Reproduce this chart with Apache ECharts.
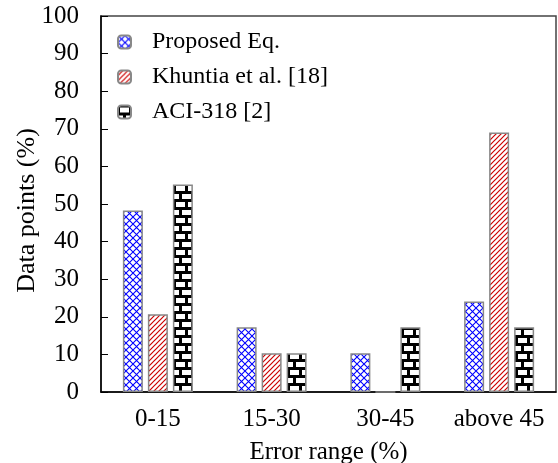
<!DOCTYPE html>
<html><head><meta charset="utf-8">
<script src="https://cdn.jsdelivr.net/npm/echarts@6/dist/echarts.min.js"></script>
<style>html,body{margin:0;padding:0;background:#fff}#c{width:558px;height:463px}</style>
</head><body><div id="c"></div>
<script>
const categories = ['0-15', '15-30', '30-45', 'above 45'];
const seriesNames = ['Proposed Eq.', 'Khuntia et al. [18]', 'ACI-318 [2]'];
const proposed = [48.3, 17.2, 10.3, 24.1];
const khuntia = [20.7, 10.3, 0, 69.0];
const aci = [55.2, 10.3, 17.2, 17.2];
const yTicks = [0, 10, 20, 30, 40, 50, 60, 70, 80, 90, 100];

function mk(w, h, draw) {
  const c = document.createElement('canvas'); c.width = w; c.height = h;
  const g = c.getContext('2d'); g.fillStyle = '#fff'; g.fillRect(0, 0, w, h); draw(g); return c;
}
const bluePat = mk(7, 7, g => {
  g.strokeStyle = '#0000ff'; g.lineWidth = 1.1;
  g.beginPath(); g.moveTo(0, 0); g.lineTo(7, 7); g.moveTo(7, 0); g.lineTo(0, 7); g.stroke();
});
const redPat = mk(5, 5, g => {
  g.strokeStyle = '#cc0000'; g.lineWidth = 1.2;
  g.beginPath(); g.moveTo(-1, 6); g.lineTo(6, -1); g.moveTo(-1, 1); g.lineTo(1, -1); g.moveTo(4, 6); g.lineTo(6, 4); g.stroke();
});
const brickPat = mk(12, 16, g => {
  g.fillStyle = '#000'; g.fillRect(0, 0, 12, 16);
  g.fillStyle = '#fff';
  g.fillRect(2, 2, 9, 5);
  g.fillRect(-4, 10, 9, 5); g.fillRect(8, 10, 9, 5);
});
const pats = [bluePat, redPat, brickPat];
const datas = [proposed, khuntia, aci];
const font = 'Liberation Serif';

const chart = echarts.init(document.getElementById('c'));
chart.setOption({
  animation: false,
  grid: { left: 101, right: 2, top: 16, bottom: 71, show: true, borderColor: '#444', borderWidth: 1.5,
    containLabel: false, outerBoundsMode: 'none' },
  legend: {
    left: 112, top: 25, orient: 'vertical', itemGap: 11, itemWidth: 13, itemHeight: 13,
    textStyle: { fontFamily: font, fontSize: 24, color: '#000', padding: [0, 0, 0, 16] },
    data: seriesNames
  },
  xAxis: {
    type: 'category', data: categories,
    name: 'Error range (%)', nameLocation: 'middle', nameGap: 48, nameMoveOverlap: false,
    nameTextStyle: { fontFamily: font, fontSize: 25, color: '#000' },
    axisLine: { lineStyle: { color: '#000', width: 1.5 } },
    axisTick: { show: false },
    axisLabel: { fontFamily: font, fontSize: 25, color: '#000', margin: 15, interval: 0 }
  },
  yAxis: {
    type: 'value', min: 0, max: 100, interval: 10,
    name: 'Data points (%)', nameLocation: 'middle', nameGap: 61, nameMoveOverlap: false,
    nameTextStyle: { fontFamily: font, fontSize: 26, color: '#000', padding: [0, 13, 0, 0] },
    axisLine: { show: true, lineStyle: { color: '#000', width: 1.5 } },
    axisTick: { show: true, inside: true, length: 7, lineStyle: { color: '#000' } },
    splitLine: { show: false },
    axisLabel: { fontFamily: font, fontSize: 25, color: '#000', margin: 22,
      formatter: v => yTicks.includes(v) ? String(v) : '' }
  },
  series: seriesNames.map((n, i) => ({
    name: n, type: 'bar', data: datas[i],
    barWidth: 20, barGap: '25%',
    itemStyle: { color: { image: pats[i], repeat: 'repeat' }, borderColor: '#888', borderWidth: 1.5 }
  }))
});
</script></body></html>
